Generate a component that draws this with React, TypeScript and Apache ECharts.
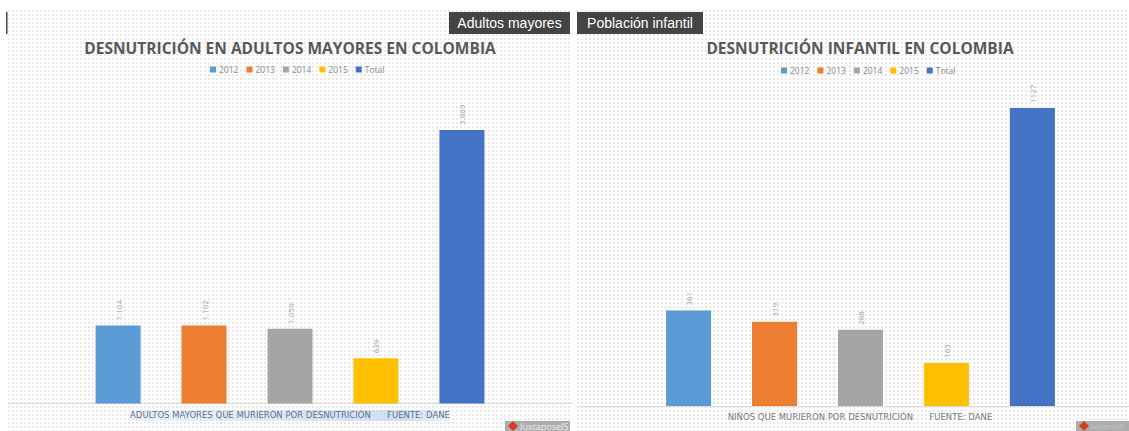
import React, { useEffect, useRef } from "react";
import * as echarts from "echarts";

const seriesNames = ["2012", "2013", "2014", "2015", "Total"];
const colors = ["#5B9BD5", "#ED7D31", "#A5A5A5", "#FFC000", "#4472C4"];
const adultValues = [1104, 1102, 1059, 639, 3869];
const adultLabels = ["1.104", "1.102", "1.059", "639", "3.869"];
const childValues = [361, 319, 288, 163, 1127];
const childLabels = ["361", "319", "288", "163", "1127"];

const W = 1129;
const H = 431;
const FONT = "'Open Sans', sans-serif";

function barSeries(values: number[], labels: string[], axis: number, barWidth: number, gap: string) {
  return seriesNames.map((name, i) => ({
    name,
    type: "bar" as const,
    xAxisIndex: axis,
    yAxisIndex: axis,
    barWidth,
    barGap: gap,
    data: [values[i]],
    itemStyle: { color: colors[i] },
    label: {
      show: true,
      position: "top" as const,
      rotate: 90,
      distance: 5,
      align: "left" as const,
      verticalAlign: "middle" as const,
      formatter: () => labels[i],
      color: "#a3a3a3",
      fontSize: 8,
      fontFamily: FONT,
    },
  }));
}

function button(x: number, width: number, text: string) {
  return [
    { type: "rect", shape: { x, y: 12, width, height: 22 }, style: { fill: "#444444" }, z: 10 },
    {
      type: "text",
      x: x + width / 2,
      y: 23,
      z: 11,
      style: {
        text,
        fill: "#ffffff",
        font: "14px 'Liberation Sans', Arial, sans-serif",
        align: "center",
        verticalAlign: "middle",
      },
    },
  ];
}

function caption(x: number, y: number, text: string, fill: string) {
  return {
    type: "text",
    x,
    y,
    z: 11,
    style: {
      text,
      fill,
      font: `8.5px 'DejaVu Sans', sans-serif`,
      align: "center",
      verticalAlign: "middle",
    },
  };
}

function badge(x: number, width: number, text: string, fontSize: number, fill: string) {
  return [
    { type: "rect", shape: { x, y: 421, width, height: 10 }, style: { fill: "#adadad" }, z: 10 },
    {
      type: "polygon",
      shape: { points: [[x + 8, 421], [x + 13, 426], [x + 8, 431], [x + 3, 426]] },
      style: { fill: "#d1401f" },
      z: 11,
    },
    {
      type: "text",
      x: x + 15,
      y: 426,
      z: 11,
      style: { text, fill, font: `${fontSize}px 'Open Sans', sans-serif`, verticalAlign: "middle" },
    },
  ];
}

const legendText = { color: "#8a8a8a", fontSize: 8.5, fontFamily: FONT, padding: [0, 0, 0, -2] };
const titleText = { color: "#595959", fontSize: 15.5, fontWeight: "bold", fontFamily: FONT };

export default function App() {
  const ref = useRef<HTMLDivElement>(null);
  useEffect(() => {
    if (!ref.current) return;
    const chart = echarts.init(ref.current, undefined, { renderer: "svg" });
    const axisLine = { show: true, lineStyle: { color: "#d9d9d9", width: 1 } };
    chart.setOption({
      animation: false,
      backgroundColor: "transparent",
      title: [
        { text: "DESNUTRICIÓN EN ADULTOS MAYORES EN COLOMBIA", left: 285, top: 35, textAlign: "center", textStyle: titleText },
        { text: "DESNUTRICIÓN INFANTIL EN COLOMBIA", left: 855, top: 35, textAlign: "center", textStyle: titleText },
      ],
      legend: [
        { data: seriesNames, left: 205, top: 60, itemWidth: 6, itemHeight: 6, itemGap: 8, icon: "rect", textStyle: legendText },
        { data: seriesNames, left: 776, top: 61, itemWidth: 6, itemHeight: 6, itemGap: 8, icon: "rect", textStyle: legendText },
      ],
      grid: [
        { left: 8, width: 564, top: 120.7, height: 282.8, outerBoundsMode: "none" },
        { left: 578, width: 565, top: 88.7, height: 317.3, outerBoundsMode: "none" },
      ],
      xAxis: [
        { type: "category", gridIndex: 0, data: [""], axisLine, axisTick: { show: false }, axisLabel: { show: false } },
        { type: "category", gridIndex: 1, data: [""], axisLine, axisTick: { show: false }, axisLabel: { show: false } },
      ],
      yAxis: [
        { type: "value", gridIndex: 0, min: 0, max: 4000, show: false, splitLine: { show: false } },
        { type: "value", gridIndex: 1, min: 0, max: 1200, show: false, splitLine: { show: false } },
      ],
      series: [
        ...barSeries(adultValues, adultLabels, 0, 45, "91%"),
        ...barSeries(childValues, childLabels, 1, 45, "91%"),
      ],
      graphic: [
        { type: "rect", shape: { x: 6, y: 12, width: 1.5, height: 22 }, style: { fill: "#444444" }, z: 10 },
        ...button(449, 121, "Adultos mayores"),
        ...button(577, 126, "Población infantil"),
        {
          type: "rect",
          shape: { x: 129, y: 410, width: 321, height: 11 },
          z: 9,
          style: {
            fill: new echarts.graphic.LinearGradient(0, 0, 1, 0, [
              { offset: 0, color: "rgba(200,220,240,0.25)" },
              { offset: 0.85, color: "rgba(190,215,240,0.75)" },
              { offset: 1, color: "rgba(200,220,240,0.25)" },
            ]),
          },
        },
        caption(290, 415, "ADULTOS MAYORES QUE MURIERON POR DESNUTRICIÓN      FUENTE: DANE", "#5f7287"),
        caption(860, 417, "NIÑOS QUE MURIERON POR DESNUTRICIÓN      FUENTE: DANE", "#7b7b7b"),
        ...badge(505, 65, "JuxtaposeJS", 9, "#eeeeee"),
        ...badge(1076, 53, "JuxtaposeJS", 6.2, "#c4c4c4"),
      ],
    });
    return () => chart.dispose();
  }, []);

  const dots: React.CSSProperties = {
    position: "absolute",
    top: 10,
    height: H - 10,
    backgroundImage: "radial-gradient(circle at 1px 1px, #e8e8e8 0.7px, transparent 0.9px)",
    backgroundSize: "4px 4px",
    backgroundColor: "#fefefe",
  };

  return (
    <div style={{ position: "absolute", left: 0, top: 0, width: W, height: H, background: "#ffffff", overflow: "hidden" }}>
      <div style={{ ...dots, left: 8, width: 562 }} />
      <div style={{ ...dots, left: 577, width: 552 }} />
      <div ref={ref} style={{ position: "absolute", left: 0, top: 0, width: W, height: H }} />
    </div>
  );
}
